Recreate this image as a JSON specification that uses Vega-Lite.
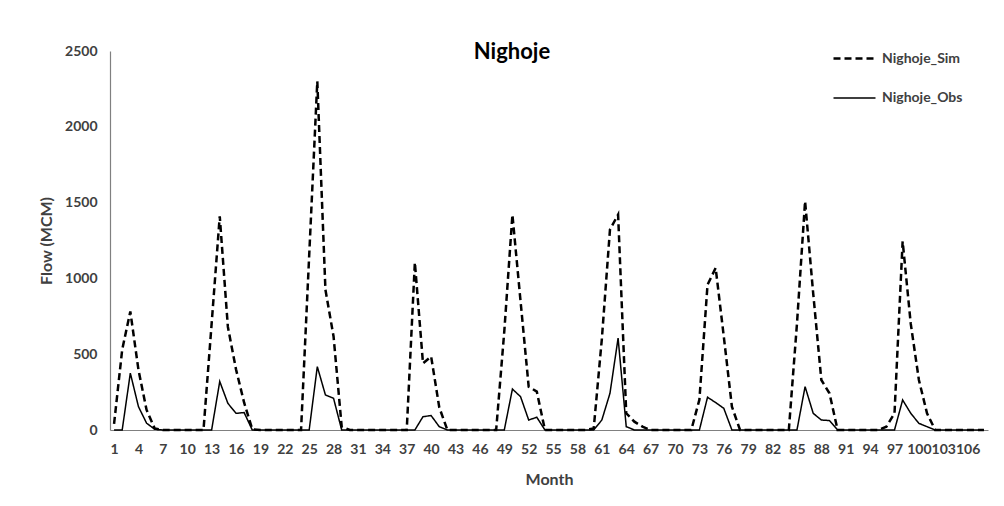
{
  "$schema": "https://vega.github.io/schema/vega-lite/v6.json",
  "width": 878,
  "height": 379,
  "autosize": {"type": "none"},
  "padding": {"left": 110, "top": 51, "right": 16, "bottom": 76},
  "background": "white",
  "title": {
    "text": "Nighoje",
    "frame": "group",
    "anchor": "middle",
    "baseline": "middle",
    "offset": -2,
    "dy": 36,
    "dx": -37,
    "font": "Lato",
    "fontSize": 22,
    "fontWeight": "bold",
    "color": "#000000"
  },
  "data": {
    "values": [
      {"m": 1, "Nighoje_Sim": 40, "Nighoje_Obs": 0},
      {"m": 2, "Nighoje_Sim": 530, "Nighoje_Obs": 0},
      {"m": 3, "Nighoje_Sim": 782, "Nighoje_Obs": 375},
      {"m": 4, "Nighoje_Sim": 397, "Nighoje_Obs": 154},
      {"m": 5, "Nighoje_Sim": 132, "Nighoje_Obs": 45},
      {"m": 6, "Nighoje_Sim": 10, "Nighoje_Obs": 5},
      {"m": 7, "Nighoje_Sim": 0, "Nighoje_Obs": 0},
      {"m": 8, "Nighoje_Sim": 0, "Nighoje_Obs": 0},
      {"m": 9, "Nighoje_Sim": 0, "Nighoje_Obs": 0},
      {"m": 10, "Nighoje_Sim": 0, "Nighoje_Obs": 0},
      {"m": 11, "Nighoje_Sim": 0, "Nighoje_Obs": 0},
      {"m": 12, "Nighoje_Sim": 0, "Nighoje_Obs": 0},
      {"m": 13, "Nighoje_Sim": 700, "Nighoje_Obs": 0},
      {"m": 14, "Nighoje_Sim": 1410, "Nighoje_Obs": 320},
      {"m": 15, "Nighoje_Sim": 680, "Nighoje_Obs": 176},
      {"m": 16, "Nighoje_Sim": 400, "Nighoje_Obs": 110},
      {"m": 17, "Nighoje_Sim": 180, "Nighoje_Obs": 115},
      {"m": 18, "Nighoje_Sim": 5, "Nighoje_Obs": 0},
      {"m": 19, "Nighoje_Sim": 0, "Nighoje_Obs": 0},
      {"m": 20, "Nighoje_Sim": 0, "Nighoje_Obs": 0},
      {"m": 21, "Nighoje_Sim": 0, "Nighoje_Obs": 0},
      {"m": 22, "Nighoje_Sim": 0, "Nighoje_Obs": 0},
      {"m": 23, "Nighoje_Sim": 0, "Nighoje_Obs": 0},
      {"m": 24, "Nighoje_Sim": 0, "Nighoje_Obs": 0},
      {"m": 25, "Nighoje_Sim": 1150, "Nighoje_Obs": 0},
      {"m": 26, "Nighoje_Sim": 2300, "Nighoje_Obs": 418},
      {"m": 27, "Nighoje_Sim": 925, "Nighoje_Obs": 231},
      {"m": 28, "Nighoje_Sim": 617, "Nighoje_Obs": 209},
      {"m": 29, "Nighoje_Sim": 22, "Nighoje_Obs": 0},
      {"m": 30, "Nighoje_Sim": 0, "Nighoje_Obs": 0},
      {"m": 31, "Nighoje_Sim": 0, "Nighoje_Obs": 0},
      {"m": 32, "Nighoje_Sim": 0, "Nighoje_Obs": 0},
      {"m": 33, "Nighoje_Sim": 0, "Nighoje_Obs": 0},
      {"m": 34, "Nighoje_Sim": 0, "Nighoje_Obs": 0},
      {"m": 35, "Nighoje_Sim": 0, "Nighoje_Obs": 0},
      {"m": 36, "Nighoje_Sim": 0, "Nighoje_Obs": 0},
      {"m": 37, "Nighoje_Sim": 0, "Nighoje_Obs": 0},
      {"m": 38, "Nighoje_Sim": 1105, "Nighoje_Obs": 0},
      {"m": 39, "Nighoje_Sim": 440, "Nighoje_Obs": 88},
      {"m": 40, "Nighoje_Sim": 485, "Nighoje_Obs": 95},
      {"m": 41, "Nighoje_Sim": 150, "Nighoje_Obs": 22},
      {"m": 42, "Nighoje_Sim": 0, "Nighoje_Obs": 0},
      {"m": 43, "Nighoje_Sim": 0, "Nighoje_Obs": 0},
      {"m": 44, "Nighoje_Sim": 0, "Nighoje_Obs": 0},
      {"m": 45, "Nighoje_Sim": 0, "Nighoje_Obs": 0},
      {"m": 46, "Nighoje_Sim": 0, "Nighoje_Obs": 0},
      {"m": 47, "Nighoje_Sim": 0, "Nighoje_Obs": 0},
      {"m": 48, "Nighoje_Sim": 0, "Nighoje_Obs": 0},
      {"m": 49, "Nighoje_Sim": 650, "Nighoje_Obs": 0},
      {"m": 50, "Nighoje_Sim": 1420, "Nighoje_Obs": 270},
      {"m": 51, "Nighoje_Sim": 850, "Nighoje_Obs": 220},
      {"m": 52, "Nighoje_Sim": 286, "Nighoje_Obs": 66},
      {"m": 53, "Nighoje_Sim": 253, "Nighoje_Obs": 84},
      {"m": 54, "Nighoje_Sim": 0, "Nighoje_Obs": 0},
      {"m": 55, "Nighoje_Sim": 0, "Nighoje_Obs": 0},
      {"m": 56, "Nighoje_Sim": 0, "Nighoje_Obs": 0},
      {"m": 57, "Nighoje_Sim": 0, "Nighoje_Obs": 0},
      {"m": 58, "Nighoje_Sim": 0, "Nighoje_Obs": 0},
      {"m": 59, "Nighoje_Sim": 0, "Nighoje_Obs": 0},
      {"m": 60, "Nighoje_Sim": 10, "Nighoje_Obs": 0},
      {"m": 61, "Nighoje_Sim": 600, "Nighoje_Obs": 66},
      {"m": 62, "Nighoje_Sim": 1322, "Nighoje_Obs": 242},
      {"m": 63, "Nighoje_Sim": 1421, "Nighoje_Obs": 606},
      {"m": 64, "Nighoje_Sim": 110, "Nighoje_Obs": 22},
      {"m": 65, "Nighoje_Sim": 55, "Nighoje_Obs": 0},
      {"m": 66, "Nighoje_Sim": 22, "Nighoje_Obs": 0},
      {"m": 67, "Nighoje_Sim": 0, "Nighoje_Obs": 0},
      {"m": 68, "Nighoje_Sim": 0, "Nighoje_Obs": 0},
      {"m": 69, "Nighoje_Sim": 0, "Nighoje_Obs": 0},
      {"m": 70, "Nighoje_Sim": 0, "Nighoje_Obs": 0},
      {"m": 71, "Nighoje_Sim": 0, "Nighoje_Obs": 0},
      {"m": 72, "Nighoje_Sim": 0, "Nighoje_Obs": 0},
      {"m": 73, "Nighoje_Sim": 200, "Nighoje_Obs": 0},
      {"m": 74, "Nighoje_Sim": 958, "Nighoje_Obs": 216},
      {"m": 75, "Nighoje_Sim": 1069, "Nighoje_Obs": 181},
      {"m": 76, "Nighoje_Sim": 617, "Nighoje_Obs": 143},
      {"m": 77, "Nighoje_Sim": 154, "Nighoje_Obs": 0},
      {"m": 78, "Nighoje_Sim": 0, "Nighoje_Obs": 0},
      {"m": 79, "Nighoje_Sim": 0, "Nighoje_Obs": 0},
      {"m": 80, "Nighoje_Sim": 0, "Nighoje_Obs": 0},
      {"m": 81, "Nighoje_Sim": 0, "Nighoje_Obs": 0},
      {"m": 82, "Nighoje_Sim": 0, "Nighoje_Obs": 0},
      {"m": 83, "Nighoje_Sim": 0, "Nighoje_Obs": 0},
      {"m": 84, "Nighoje_Sim": 0, "Nighoje_Obs": 0},
      {"m": 85, "Nighoje_Sim": 700, "Nighoje_Obs": 0},
      {"m": 86, "Nighoje_Sim": 1509, "Nighoje_Obs": 286},
      {"m": 87, "Nighoje_Sim": 900, "Nighoje_Obs": 110},
      {"m": 88, "Nighoje_Sim": 330, "Nighoje_Obs": 66},
      {"m": 89, "Nighoje_Sim": 242, "Nighoje_Obs": 62},
      {"m": 90, "Nighoje_Sim": 0, "Nighoje_Obs": 0},
      {"m": 91, "Nighoje_Sim": 0, "Nighoje_Obs": 0},
      {"m": 92, "Nighoje_Sim": 0, "Nighoje_Obs": 0},
      {"m": 93, "Nighoje_Sim": 0, "Nighoje_Obs": 0},
      {"m": 94, "Nighoje_Sim": 0, "Nighoje_Obs": 0},
      {"m": 95, "Nighoje_Sim": 0, "Nighoje_Obs": 0},
      {"m": 96, "Nighoje_Sim": 22, "Nighoje_Obs": 0},
      {"m": 97, "Nighoje_Sim": 110, "Nighoje_Obs": 0},
      {"m": 98, "Nighoje_Sim": 1245, "Nighoje_Obs": 198},
      {"m": 99, "Nighoje_Sim": 700, "Nighoje_Obs": 110},
      {"m": 100, "Nighoje_Sim": 330, "Nighoje_Obs": 44},
      {"m": 101, "Nighoje_Sim": 110, "Nighoje_Obs": 22},
      {"m": 102, "Nighoje_Sim": 0, "Nighoje_Obs": 0},
      {"m": 103, "Nighoje_Sim": 0, "Nighoje_Obs": 0},
      {"m": 104, "Nighoje_Sim": 0, "Nighoje_Obs": 0},
      {"m": 105, "Nighoje_Sim": 0, "Nighoje_Obs": 0},
      {"m": 106, "Nighoje_Sim": 0, "Nighoje_Obs": 0},
      {"m": 107, "Nighoje_Sim": 0, "Nighoje_Obs": 0},
      {"m": 108, "Nighoje_Sim": 0, "Nighoje_Obs": 0}
    ]
  },
  "transform": [
    {"fold": ["Nighoje_Sim", "Nighoje_Obs"], "as": ["series", "flow"]}
  ],
  "mark": {"type": "line", "strokeCap": "butt", "strokeJoin": "miter"},
  "encoding": {
    "x": {
      "field": "m",
      "type": "quantitative",
      "scale": {"domain": [0.5, 108.5], "nice": false, "zero": false},
      "axis": {
        "title": "Month",
        "values": [1, 4, 7, 10, 13, 16, 19, 22, 25, 28, 31, 34, 37, 40, 43, 46, 49, 52, 55, 58, 61, 64, 67, 70, 73, 76, 79, 82, 85, 88, 91, 94, 97, 100, 103, 106],
        "grid": false,
        "ticks": false,
        "labelFlush": false,
        "labelOverlap": false,
        "labelPadding": 12,
        "titlePadding": 15
      }
    },
    "y": {
      "field": "flow",
      "type": "quantitative",
      "scale": {"domain": [0, 2500], "nice": false},
      "axis": {
        "title": "Flow (MCM)",
        "format": "d",
        "values": [0, 500, 1000, 1500, 2000, 2500],
        "grid": false,
        "ticks": false,
        "labelPadding": 13,
        "titlePadding": 10
      }
    },
    "color": {
      "field": "series",
      "type": "nominal",
      "scale": {"domain": ["Nighoje_Sim", "Nighoje_Obs"], "range": ["#000000", "#000000"]},
      "legend": {"title": null}
    },
    "strokeDash": {
      "field": "series",
      "type": "nominal",
      "scale": {"domain": ["Nighoje_Sim", "Nighoje_Obs"], "range": [[7, 4], [1, 0]]},
      "legend": {"title": null}
    },
    "strokeWidth": {
      "field": "series",
      "type": "nominal",
      "scale": {"domain": ["Nighoje_Sim", "Nighoje_Obs"], "range": [2.5, 1.5]},
      "legend": {"title": null}
    }
  },
  "config": {
    "view": {"stroke": null},
    "font": "Lato",
    "axis": {
      "domainColor": "#808080",
      "domainWidth": 1.2,
      "labelFont": "Lato",
      "labelFontSize": 14,
      "labelFontWeight": "bold",
      "labelColor": "#404040",
      "titleFont": "Lato",
      "titleFontSize": 16,
      "titleFontWeight": "bold",
      "titleColor": "#404040"
    },
    "legend": {
      "orient": "none",
      "legendX": 722,
      "legendY": -15,
      "padding": 0,
      "rowPadding": 10,
      "symbolType": "stroke",
      "symbolSize": 1764,
      "symbolStrokeColor": "#000000",
      "labelFont": "Lato",
      "labelFontSize": 14,
      "labelFontWeight": "bold",
      "labelColor": "#404040",
      "labelOffset": 5
    }
  }
}
